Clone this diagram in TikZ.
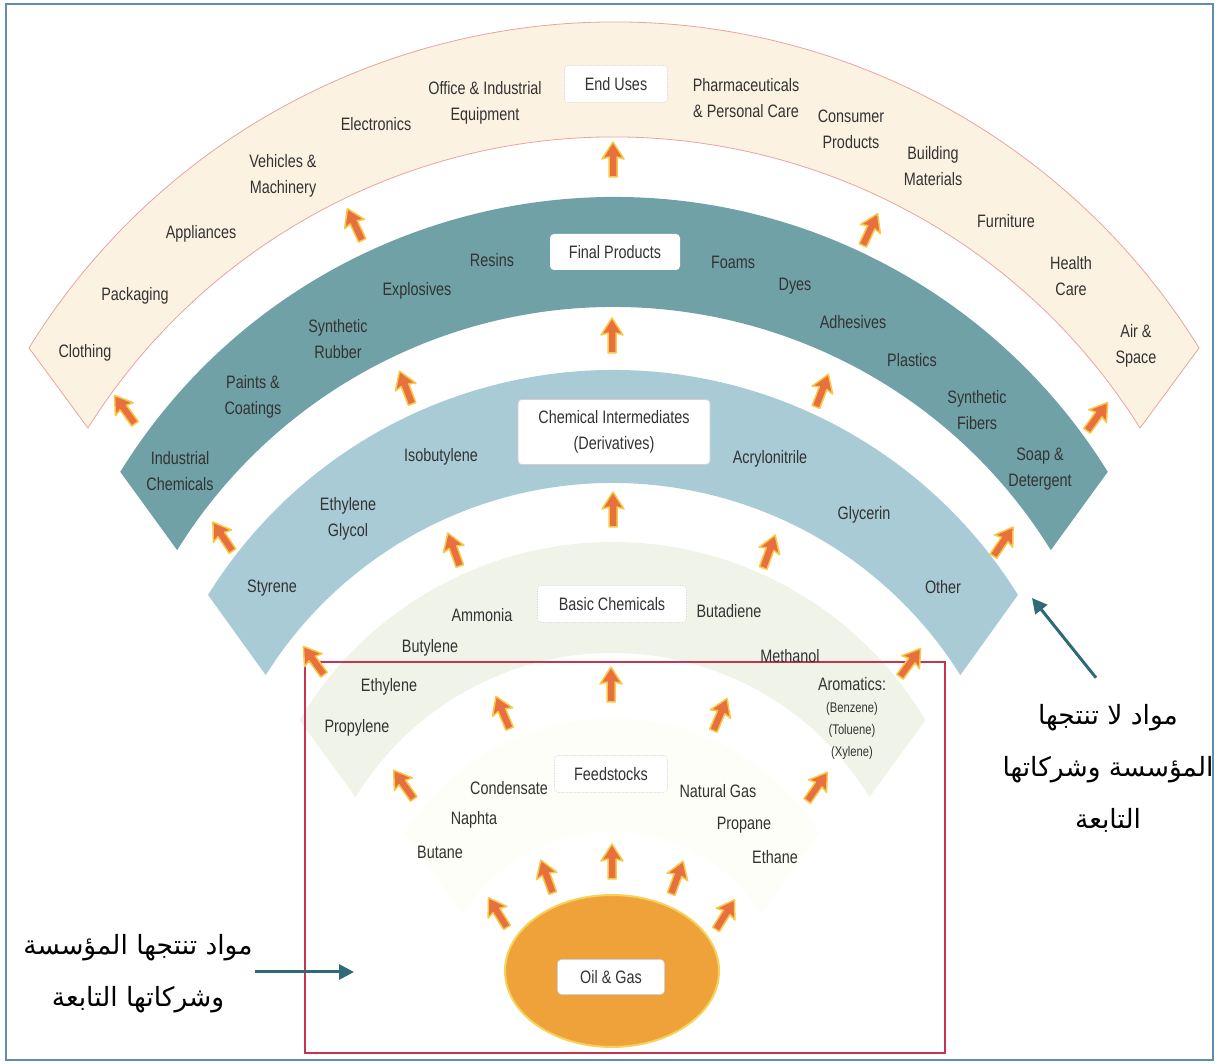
\documentclass[tikz,border=0pt]{standalone}
\usepackage{fontspec}
\setmainfont{Liberation Sans}[FakeStretch=0.8]
\newfontfamily\arabicfont[Script=Arabic]{DejaVu Sans}
\TeXXeTstate=1
\usepackage{xcolor}
\usepackage{tikz}
\usetikzlibrary{shapes.geometric}
\usetikzlibrary{arrows.meta}
\usetikzlibrary{calc}

\definecolor{usesfill}{HTML}{FCF2E2}
\definecolor{usesedge}{HTML}{E9A3A0}
\definecolor{finalfill}{HTML}{70A1A6}
\definecolor{interfill}{HTML}{A8CBD5}
\definecolor{basicfill}{HTML}{F0F4E8}
\definecolor{feedfill}{HTML}{FEFEF8}
\definecolor{flowfill}{HTML}{E8703F}
\definecolor{flowglow}{HTML}{F7C948}
\definecolor{oilfill}{HTML}{EFA13A}
\definecolor{oilglow}{HTML}{F6D25A}
\definecolor{ownedge}{HTML}{C8344F}
\definecolor{frameedge}{HTML}{5F8FAE}
\definecolor{pointerline}{HTML}{2F6A78}
\definecolor{labeltext}{HTML}{333333}

\begin{document}
\begin{tikzpicture}[
		x=1pt,
		y=1pt,
		font=\fontsize{18pt}{26pt}\selectfont,
		>={Triangle[length=15,width=15]},
	]
		\tikzset{bandlabel/.style={
			align=center,
			text=labeltext,
			inner sep=1,
		}}
		\tikzset{stagebox/.style={
			fill=white,
			draw=black!18,
			line width=0.6,
			rounded corners=4,
			align=center,
			text=labeltext,
			minimum height=37,
		}}
		\tikzset{arabiclabel/.style={
			align=center,
			text=black,
			inner sep=2,
			font=\fontsize{26.5pt}{52pt}\arabicfont,
		}}
		\tikzset{pointer/.style={
			->,
			draw=pointerline,
			line width=3,
		}}
		\tikzset{flowarrow/.pic={
			\filldraw[fill=flowfill, draw=flowglow, line width=1.5, line join=round]
				(18,0) -- (1,11) -- (3,4) -- (-17,4) -- (-17,-4) -- (3,-4) -- (1,-11) -- cycle;
		}}

		\useasboundingbox (0,0) rectangle (1218,1063);
		\draw[frameedge, line width=2] (6,3) rectangle (1213,1059);

		%---------------------------------
		% Bands
		\draw[fill=usesfill, draw=usesedge, line width=0.8]
			([shift={(614,353)}]148.25:688) arc[start angle=148.25, end angle=31.75, radius=688]
			-- ([shift={(614,305)}]32.1:621) arc[start angle=32.1, end angle=147.9, radius=621] -- cycle;
		\fill[finalfill]
			([shift={(614,285)}]148.2:581) arc[start angle=148.2, end angle=31.8, radius=581]
			-- ([shift={(614,242)}]31.8:514) arc[start angle=31.8, end angle=148.2, radius=514] -- cycle;
		\fill[interfill]
			([shift={(613,216)}]148.1:477) arc[start angle=148.1, end angle=31.9, radius=477]
			-- ([shift={(613,170)}]32.1:410) arc[start angle=32.1, end angle=147.9, radius=410] -- cycle;
		\fill[basicfill]
			([shift={(612.5,157)}]149.3:364) arc[start angle=149.3, end angle=30.7, radius=364]
			-- ([shift={(612.5,109)}]31.4:301) arc[start angle=31.4, end angle=148.6, radius=301] -- cycle;
		\fill[feedfill]
			([shift={(612,100)}]148:245) arc[start angle=148, end angle=32, radius=245]
			-- ([shift={(612,55)}]32:176) arc[start angle=32, end angle=148, radius=176] -- cycle;

		%---------------------------------
		% Own products
		\draw[ownedge, line width=2] (305,401) rectangle (945,10);

		%---------------------------------
		% Oil & Gas
		\node[
			ellipse,
			fill=oilfill,
			draw=oilglow,
			line width=2,
			minimum width=214,
			minimum height=152,
		] (oilgas) at (612,92) {};
		\node[
			stagebox,
			minimum width=107,
			minimum height=35,
		] (oilbox) at (611,86) {Oil \& Gas};

		%---------------------------------
		% Stage titles
		\node[stagebox, densely dotted, minimum width=103] (usesbox) at (616,979) {End Uses};
		\node[stagebox, draw=none, minimum width=130, minimum height=36] (finalbox) at (615,811) {Final Products};
		\node[stagebox, minimum width=192, minimum height=65] (interbox) at (614,631) {Chemical Intermediates\\(Derivatives)};
		\node[stagebox, densely dotted, minimum width=149] (basicbox) at (612,459) {Basic Chemicals};
		\node[stagebox, densely dotted, minimum width=113] (feedbox) at (611,289) {Feedstocks};

		%---------------------------------
		% End uses
		\node[bandlabel] (clothing) at (85,710) {Clothing};
		\node[bandlabel] (packaging) at (135,767) {Packaging};
		\node[bandlabel] (appliances) at (201,829) {Appliances};
		\node[bandlabel] (vehicles) at (283,887) {Vehicles \&\\Machinery};
		\node[bandlabel] (electronics) at (376,939) {Electronics};
		\node[bandlabel] (office) at (485,960) {Office \& Industrial\\Equipment};
		\node[bandlabel] (pharma) at (746,965) {Pharmaceuticals\\\& Personal Care};
		\node[bandlabel] (consumer) at (851,934) {Consumer\\Products};
		\node[bandlabel] (building) at (933,897) {Building\\Materials};
		\node[bandlabel] (furniture) at (1006,842) {Furniture};
		\node[bandlabel] (health) at (1071,787) {Health\\Care};
		\node[bandlabel] (airspace) at (1136,717) {Air \&\\Space};

		%---------------------------------
		% Final products
		\node[bandlabel] (indchem) at (180,592) {Industrial\\Chemicals};
		\node[bandlabel] (paints) at (253,666) {Paints \&\\Coatings};
		\node[bandlabel] (rubber) at (338,724) {Synthetic\\Rubber};
		\node[bandlabel] (explosives) at (417,772) {Explosives};
		\node[bandlabel] (resins) at (492,803) {Resins};
		\node[bandlabel] (foams) at (733,801) {Foams};
		\node[bandlabel] (dyes) at (795,777) {Dyes};
		\node[bandlabel] (adhesives) at (853,741) {Adhesives};
		\node[bandlabel] (plastics) at (912,703) {Plastics};
		\node[bandlabel] (fibers) at (977,653) {Synthetic\\Fibers};
		\node[bandlabel] (soap) at (1040,594) {Soap \&\\Detergent};

		%---------------------------------
		% Intermediates
		\node[bandlabel] (styrene) at (272,475) {Styrene};
		\node[bandlabel] (glycol) at (348,544) {Ethylene\\Glycol};
		\node[bandlabel] (isobutylene) at (441,606) {Isobutylene};
		\node[bandlabel] (acrylo) at (770,604) {Acrylonitrile};
		\node[bandlabel] (glycerin) at (864,548) {Glycerin};
		\node[bandlabel] (other) at (943,476) {Other};

		%---------------------------------
		% Basic chemicals
		\node[bandlabel] (ammonia) at (482,448) {Ammonia};
		\node[bandlabel] (butylene) at (430,415) {Butylene};
		\node[bandlabel] (ethylene) at (389,376) {Ethylene};
		\node[bandlabel] (propylene) at (357,335) {Propylene};
		\node[bandlabel] (butadiene) at (729,452) {Butadiene};
		\node[bandlabel] (methanol) at (790,407) {Methanol};
		\node[
			bandlabel,
			font=\fontsize{14pt}{22pt}\selectfont,
		] (aromatics) at (852,345) {{\fontsize{18pt}{22pt}\selectfont Aromatics:}\\(Benzene)\\(Toluene)\\(Xylene)};

		%---------------------------------
		% Feedstocks
		\node[bandlabel] (condensate) at (509,275) {Condensate};
		\node[bandlabel] (naphta) at (474,243) {Naphta};
		\node[bandlabel] (butane) at (440,211) {Butane};
		\node[bandlabel] (natgas) at (718,272) {Natural Gas};
		\node[bandlabel] (propane) at (744,238) {Propane};
		\node[bandlabel] (ethane) at (775,206) {Ethane};

		%---------------------------------
		% Flow arrows
		% into end uses
		\path (125,653) pic[rotate=126] {flowarrow};
		\path (355,838) pic[rotate=115] {flowarrow};
		\path (613,903) pic[rotate=90] {flowarrow};
		\path (870,833) pic[rotate=65] {flowarrow};
		\path (1097,646) pic[rotate=54] {flowarrow};
		% into final products
		\path (223,526) pic[rotate=124] {flowarrow};
		\path (406,675) pic[rotate=111] {flowarrow};
		\path (612,727) pic[rotate=90] {flowarrow};
		\path (822,672) pic[rotate=69] {flowarrow};
		\path (1003,521) pic[rotate=56] {flowarrow};
		% into intermediates
		\path (314,402) pic[rotate=126] {flowarrow};
		\path (454,513) pic[rotate=110] {flowarrow};
		\path (613,553) pic[rotate=90] {flowarrow};
		\path (769,511) pic[rotate=70] {flowarrow};
		\path (910,400) pic[rotate=54] {flowarrow};
		% into basic chemicals
		\path (404,278) pic[rotate=125] {flowarrow};
		\path (503,350) pic[rotate=113] {flowarrow};
		\path (611,378) pic[rotate=90] {flowarrow};
		\path (720,348) pic[rotate=67] {flowarrow};
		\path (817,276) pic[rotate=55] {flowarrow};
		% from oil & gas
		\path (498,150) pic[rotate=122] {flowarrow};
		\path (547,186) pic[rotate=110] {flowarrow};
		\path (612,201) pic[rotate=90] {flowarrow};
		\path (677,185) pic[rotate=70] {flowarrow};
		\path (725,148) pic[rotate=58] {flowarrow};

		%---------------------------------
		% Notes
		\node[arabiclabel] (ownlabel) at (138,89)
			{\beginR مواد تنتجها المؤسسة\endR\\\beginR وشركاتها التابعة\endR};
		\coordinate (ownpoint) at (354,91);
		\draw[pointer] (ownlabel.east |- ownpoint) -- (ownpoint);

		\node[arabiclabel] (otherlabel) at (1108,295)
			{\beginR مواد لا تنتجها\endR\\\beginR المؤسسة وشركاتها\endR\\\beginR التابعة\endR};
		\coordinate (otherpoint) at (1032,465);
		\draw[pointer] (otherlabel.north) ++(-12,24) -- (otherpoint);
	\end{tikzpicture}
\end{document}
